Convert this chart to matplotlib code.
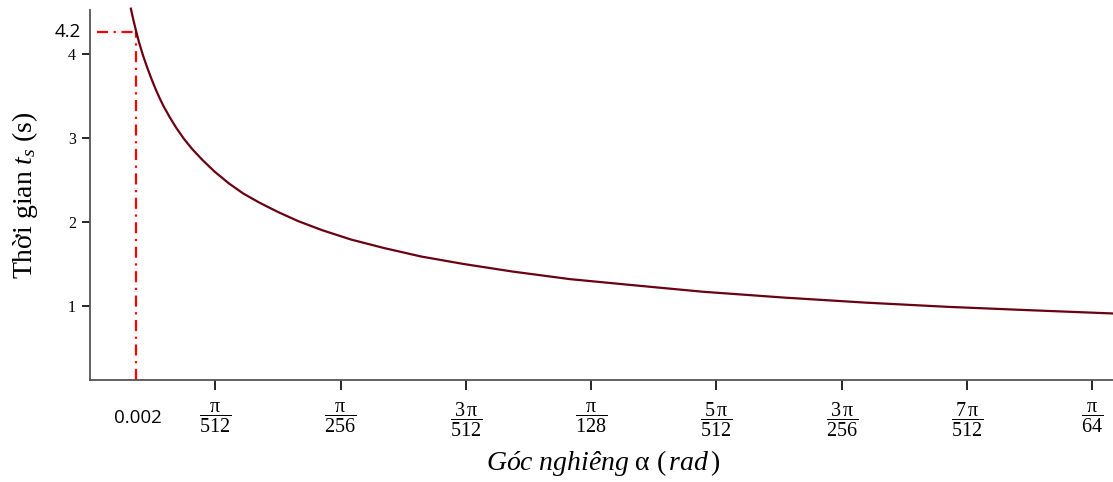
import matplotlib
matplotlib.use("Agg")
import matplotlib.pyplot as plt
import numpy as np

plt.rcParams["font.family"] = ["Liberation Serif", "DejaVu Serif"]
plt.rcParams["mathtext.fontset"] = "custom"
plt.rcParams["mathtext.rm"] = "Liberation Serif"
plt.rcParams["mathtext.it"] = "Liberation Serif:italic"
plt.rcParams["mathtext.bf"] = "Liberation Serif:bold"

# goc nghieng (rad) va thoi gian (s), doc tu hinh
alpha = [0.0020, 0.00213, 0.00227, 0.0024, 0.0026, 0.0028, 0.0030, 0.0032,
         0.0034, 0.0036, 0.0039, 0.0042, 0.0046, 0.0050, 0.0055, 0.0061,
         0.0068, 0.0075, 0.0083, 0.0092, 0.0102, 0.0114, 0.0128, 0.0144,
         0.0162, 0.0183, 0.0207, 0.0235, 0.0265, 0.0300, 0.0340, 0.0380,
         0.0420, 0.0460, 0.0502]
t_s = [4.54, 4.40, 4.26, 4.14, 3.98, 3.84, 3.71, 3.59,
       3.48, 3.38, 3.25, 3.13, 2.99, 2.87, 2.74, 2.60,
       2.46, 2.34, 2.23, 2.12, 2.01, 1.90, 1.79, 1.69,
       1.59, 1.50, 1.41, 1.32, 1.25, 1.17, 1.10, 1.04,
       0.99, 0.95, 0.91]

x_ticks = [np.pi / 512 * k for k in range(1, 9)]
x_labels = [r"$\dfrac{\mathrm{\pi}}{512}$", r"$\dfrac{\mathrm{\pi}}{256}$",
            r"$\dfrac{3\,\mathrm{\pi}}{512}$", r"$\dfrac{\mathrm{\pi}}{128}$",
            r"$\dfrac{5\,\mathrm{\pi}}{512}$", r"$\dfrac{3\,\mathrm{\pi}}{256}$",
            r"$\dfrac{7\,\mathrm{\pi}}{512}$", r"$\dfrac{\mathrm{\pi}}{64}$"]
y_ticks = [1, 2, 3, 4]

mark_alpha = 0.00227
mark_t = 4.26

W, H = 1113, 482
fig = plt.figure(figsize=(W / 100, H / 100), dpi=100)
ax = fig.add_axes([90 / W, (H - 380) / H, (W - 90) / W, 380 / H])

ax.plot(alpha, t_s, color="#6b0012", lw=1.6, zorder=3)

# duong giong do
ax.plot([mark_alpha, mark_alpha], [0.119, mark_t], color="red", lw=1.6,
        dashes=[5, 2.5, 1, 2.5])
ax.plot([0.00036, mark_alpha], [mark_t, mark_t], color="red", lw=1.6,
        dashes=[5, 2.5, 1, 2.5])

ax.set_xlim(0, 0.0501)
ax.set_ylim(0.119, 4.643)

for s in ["top", "right"]:
    ax.spines[s].set_visible(False)
for s in ["left", "bottom"]:
    ax.spines[s].set_color("#555555")
    ax.spines[s].set_linewidth(1.3)
ax.spines["left"].set_bounds(0.119, 4.52)

ax.set_xticks(x_ticks)
ax.set_xticklabels(x_labels, fontsize=14.5)
ax.set_yticks(y_ticks)
ax.set_yticklabels([str(v) for v in y_ticks], fontsize=11.5)
ax.tick_params(axis="x", length=7, width=1.2, pad=8, color="black")
ax.tick_params(axis="y", length=6, width=1.2, pad=4, color="black")

fig.text(68 / W, 1 - 32 / H, "4.2", fontsize=13.5, family="Open Sans",
         ha="center", va="center")
fig.text(138 / W, 1 - 418 / H, "0.002", fontsize=13.5, family="Open Sans",
         ha="center", va="center")

fig.text(25 / W, 1 - 195 / H, r"Thời gian $t_s$ (s)", fontsize=20,
         rotation=90, ha="center", va="center")
fig.text(603 / W, 1 - 463 / H,
         r"$\mathit{Góc\ nghiêng}\ \mathrm{\alpha}\ (\,\mathit{rad}\,)$",
         fontsize=20, ha="center", va="center")

fig.savefig("out.png", dpi=100)
